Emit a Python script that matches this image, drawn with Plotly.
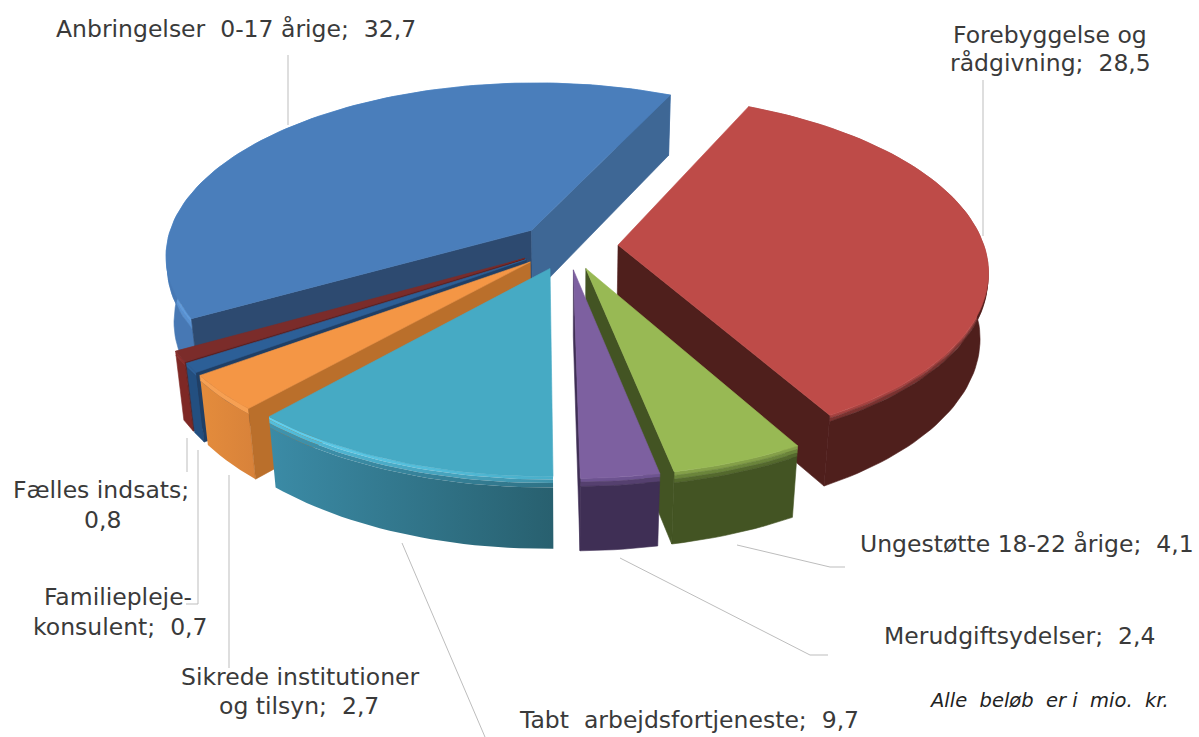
import math
import plotly.graph_objects as go

# ---- data ----
categories = ["Forebyggelse og rådgivning", "Ungestøtte 18-22 årige", "Merudgiftsydelser",
              "Tabt arbejdsfortjeneste", "Sikrede institutioner og tilsyn",
              "Familiepleje-konsulent", "Fælles indsats", "Anbringelser 0-17 årige"]
values = [28.5, 4.1, 2.4, 9.7, 2.7, 0.7, 0.8, 32.7]
note = "Alle\u00a0 beløb\u00a0 er i\u00a0 mio.\u00a0 kr."

# ---- 3D pie projection ----
CX, CY, RX, RY, K, DEPTH, KZ = 568, 246, 366, 172, 0.14, 67, 0.02
EXPLODE, START = 0.137, 24.8

top_colors = ["#BE4B48", "#98B954", "#7D60A0", "#46AAC4", "#F49645", "#2C5F97", "#7B2C2A", "#4A7EBB"]
cut_start_colors = ["#4F1F1C", "#435423", "#3F2F55", "#2F7890", "#BA6F2B", "#1F3F66", "#5E1E1C", "#2D4A70"]
cut_end_colors = ["#4F1F1C", "#435423", "#3F2F55", "#2F7890", "#BA6F2B", "#1F3F66", "#5E1E1C", "#3E6795"]
wall_bands = [
    [(0, .04, "#A54240"), (.04, .09, "#7A3230"), (.09, 1, "#4F1F1C")],
    [(0, .05, "#84A049"), (.05, .10, "#6B853B"), (.10, .15, "#54692D"), (.15, 1, "#435423")],
    [(0, .05, "#6D5390"), (.05, .11, "#55406F"), (.11, 1, "#3F2F55")],
    [(0, .04, ("#62D0EE", "#49AEC9")), (.04, .09, ("#53BEDC", "#3F93AB")),
     (.09, .15, ("#3F94AF", "#2F7387")), (.15, 1, ("#3B8BA6", "#28606F"))],
    [(0, .08, "#F6A053"), (.08, 1, ("#E48C3C", "#D8823A"))],
    [(0, .06, "#2C5F97"), (.06, 1, "#234F80")],
    [(0, .06, "#8A2E2C"), (.06, 1, "#7E2825")],
    [(0, .06, "#5F9BDC"), (.06, .16, "#5890D0"), (.16, 1, "#4778B4")],
]
draw_order = [7, 0, 6, 5, 4, 1, 2, 3]

total = sum(values)
sweeps = [v / total * 360 for v in values]
starts = []
a = START
for s in sweeps:
    starts.append(a)
    a += s


def project(X, V, f=0.0):
    w = 1 + K * V + KZ * f
    return CX + RX * X / w, CY + (-V * RY + DEPTH * f) / w


def flat(th, ox, ov, r=1.0):
    t = math.radians(th)
    return ox + r * math.sin(t), ov + r * math.cos(t)


def poly(fig, pts, color):
    x = [p[0] for p in pts] + [pts[0][0]]
    y = [p[1] for p in pts] + [pts[0][1]]
    kw = dict(x=x, y=y, mode="lines", fill="toself", hoverinfo="skip", showlegend=False)
    if isinstance(color, tuple):
        fig.add_trace(go.Scatter(line=dict(width=0), **kw,
                                 fillgradient=dict(type="horizontal",
                                                   colorscale=[[0, color[0]], [1, color[1]]])))
    else:
        fig.add_trace(go.Scatter(line=dict(width=0.6, color=color), fillcolor=color, **kw))


def faces_viewer(apex, corner, inside):
    # a cut face hangs below its top edge; it shows only if the top face lies above that edge
    ex, ey = corner[0] - apex[0], corner[1] - apex[1]
    side_down = ex * 1.0
    side_in = ex * (inside[1] - apex[1]) - ey * (inside[0] - apex[0])
    return side_down * side_in < 0


fig = go.Figure()
for i in draw_order:
    s0, sw = starts[i], sweeps[i]
    mid = math.radians(s0 + sw / 2)
    ox, ov = EXPLODE * math.sin(mid), EXPLODE * math.cos(mid)
    n = max(3, int(sw / 1.5))
    arc = [flat(s0 + sw * j / n, ox, ov) for j in range(n + 1)]
    apex = project(ox, ov)
    inside = project(*arc[n // 2])
    # outer rim, banded from the bevel downwards
    for f0, f1, c in wall_bands[i]:
        pts = [project(X, V, f0) for X, V in arc] + [project(X, V, f1) for X, V in reversed(arc)]
        poly(fig, pts, c)
    # radial cut faces that look towards the viewer
    for (X, V), c in ((arc[0], cut_start_colors[i]), (arc[-1], cut_end_colors[i])):
        if faces_viewer(apex, project(X, V), inside):
            poly(fig, [apex, project(X, V), project(X, V, 1), project(ox, ov, 1)], c)
    # top face
    poly(fig, [apex] + [project(X, V) for X, V in arc], top_colors[i])

# ---- leader lines ----
leaders = [
    [(288, 55), (288, 125)],
    [(983, 80), (983, 236)],
    [(737, 545), (830, 567), (845, 567)],
    [(620, 558), (810, 655), (828, 655)],
    [(402, 543), (485, 737)],
    [(229, 475), (229, 668)],
    [(198, 450), (198, 604), (186, 604)],
    [(187, 438), (187, 472)],
]
for pts in leaders:
    fig.add_trace(go.Scatter(x=[p[0] for p in pts], y=[p[1] for p in pts], mode="lines",
                             line=dict(color="#BDBDBD", width=1), hoverinfo="skip", showlegend=False))

# ---- labels ----
fmt = [f"{v:.1f}".replace(".", ",") for v in values]
NB = "\u00a0"
label_lines = [
    (f"Anbringelser{NB} 0-17 årige;{NB} {fmt[7]}", 236, 29),
    ("Forebyggelse og", 1050, 35),
    (f"rådgivning;{NB} {fmt[0]}", 1050, 63),
    (f"Ungestøtte 18-22 årige;{NB} {fmt[1]}", 1027, 544),
    (f"Merudgiftsydelser;{NB} {fmt[2]}", 1019, 636),
    (f"Tabt{NB} arbejdsfortjeneste;{NB} {fmt[3]}", 689, 720),
    ("Sikrede institutioner", 300, 677),
    (f"og tilsyn;{NB} {fmt[4]}", 299, 706),
    ("Familiepleje-", 118, 597),
    (f"konsulent;{NB} {fmt[5]}", 120, 627),
    ("Fælles indsats;", 101, 490),
    (fmt[6], 102, 520),
]
FONT = "DejaVu Sans, Verdana, sans-serif"
for t, x, y in label_lines:
    fig.add_annotation(x=x, y=y, text=t, showarrow=False, xanchor="center", yanchor="middle",
                       font=dict(family=FONT, size=23.5, color="#3A3A3A"))
fig.add_annotation(x=1049, y=700, text=f"<i>{note}</i>", showarrow=False, xanchor="center", yanchor="middle",
                   font=dict(family=FONT, size=19.5, color="#222222"))

fig.update_layout(width=1199, height=737, margin=dict(l=0, r=0, t=0, b=0),
                  paper_bgcolor="white", plot_bgcolor="white", showlegend=False,
                  xaxis=dict(range=[0, 1199], visible=False, fixedrange=True),
                  yaxis=dict(range=[737, 0], visible=False, fixedrange=True))
fig.write_html("out.html", config={"displayModeBar": False},
               post_script="document.body.style.margin='0';document.body.style.overflow='hidden';")
